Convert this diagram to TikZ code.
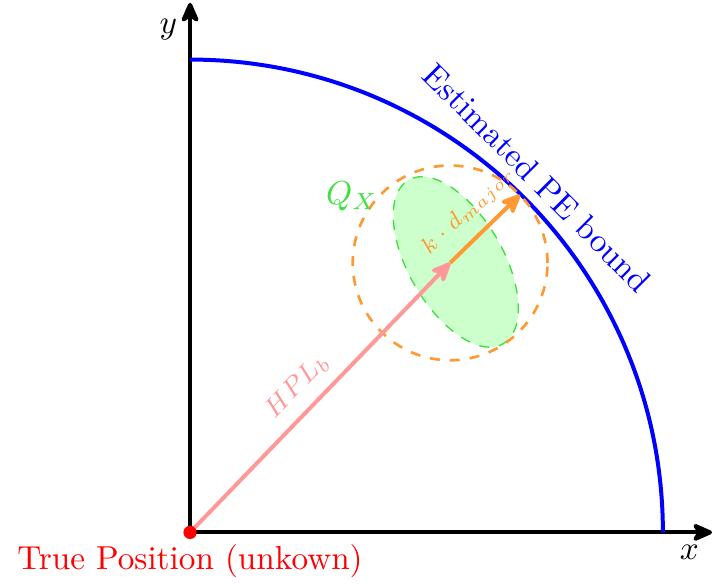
\documentclass[tikz,border=0pt]{standalone}
\usepackage{amsmath}
\usepackage{amssymb}
\usepackage{tikz}
\usepackage{xcolor}
\usetikzlibrary{arrows.meta}
\definecolor{qxgreen}{RGB}{60,225,60}

\begin{document}
\begin{tikzpicture}[arr/.style={very thick,-{Stealth[length=7.5pt,width=6.5pt,inset=2.2pt,round]}}]
\useasboundingbox (-2.01,-0.55) rectangle (5.53,5.63);

% Key points
\coordinate (O) at (0,0);
\coordinate (xend) at (5.52,0);
\coordinate (yend) at (0,5.6);
\coordinate (H) at (2.75,2.85);
\coordinate (E) at (2.81,2.86);
\coordinate (K) at (3.49,3.57);

% Axes
\draw[arr] (O) -- (xend);
\draw[arr] (O) -- (yend);
\node (xlab) at (5.28,-0.21) {$x$};
\node (ylab) at (-0.23,5.32) {$y$};

% Estimated bound
\draw[very thick,blue] (0,5) arc (90:0:5);
\node[blue,rotate=-45,anchor=south] (pe) at (45.6:5.0) {Estimated PE bound};

% Error ellipse and circle
\draw[thin,dashed,qxgreen,fill=green!20,rotate around={30:(E)}] (E) ellipse (0.5 and 1);
\draw[thick,dashed,orange!80] (H) circle (1.03);
\node[qxgreen] (qx) at (1.71,3.55) {$Q_X$};

% Arrows
\draw[arr,red!40] (O) -- (H) node[pos=0.48,above,sloped] (hpl) {\footnotesize $HPL_b$};
\draw[arr,orange!80] (H) -- (K) node[midway,above,sloped] (kd) {\scriptsize $k\cdot d_{major}$};

% True position
\fill[red] (O) circle (2pt);
\node[red,below] (tp) at (O) {True Position (unkown)};
\end{tikzpicture}
\end{document}
